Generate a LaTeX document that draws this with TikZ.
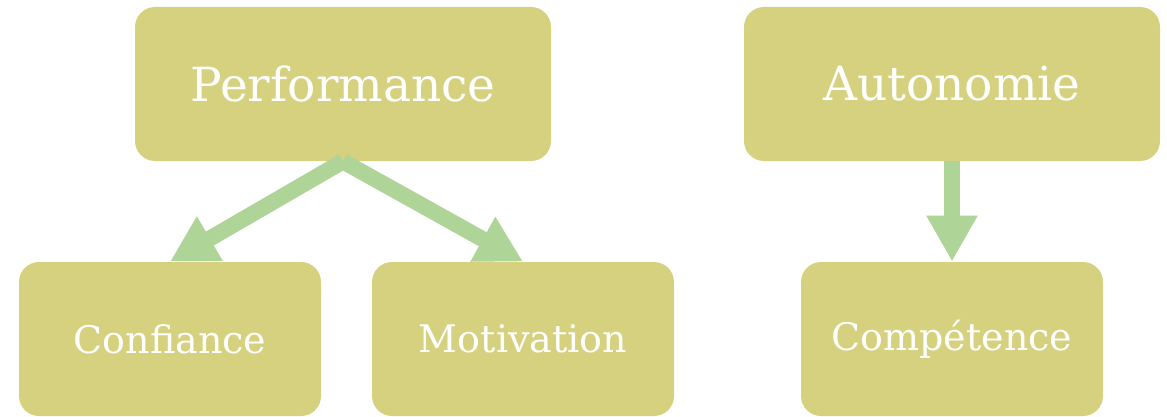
\documentclass[tikz,border=0pt]{standalone}
\usepackage{fontspec}
\setmainfont{DejaVu Serif}
\usetikzlibrary{arrows.meta}

\definecolor{boxfill}{HTML}{D6D17F}
\definecolor{arrowgreen}{HTML}{AED497}

\tikzset{
    topbox/.style={rectangle, rounded corners=10pt, fill=boxfill, text=white,
        minimum width=208pt, minimum height=77pt, inner sep=0pt,
        font=\fontsize{23.5}{28}\selectfont},
    lowbox/.style={topbox, minimum width=151pt, font=\fontsize{19}{23}\selectfont},
    bigarrow/.style={arrowgreen, line width=8pt,
        -{Triangle[length=23pt, width=24pt]}}
}

\begin{document}
\begin{tikzpicture}[x=0.5pt, y=-0.5pt]
            \useasboundingbox (0,0) rectangle (1167,417);

            % Upper row
            \node[topbox] (perf) at (343,84) {Performance};
            \node[topbox] (auto) at (952,84) {Autonomie};

            % Lower row
            \node[lowbox] (conf) at (170,339) {Confiance};
            \node[lowbox] (moti) at (523,339) {Motivation};
            \node[lowbox] (comp) at (952,339) {Compétence};

            % Arrows
            \draw[bigarrow] (perf.south) -- (conf.north);
            \draw[bigarrow] (perf.south) -- (moti.north);
            \draw[bigarrow] (auto.south) -- (comp.north);
        \end{tikzpicture}
\end{document}
